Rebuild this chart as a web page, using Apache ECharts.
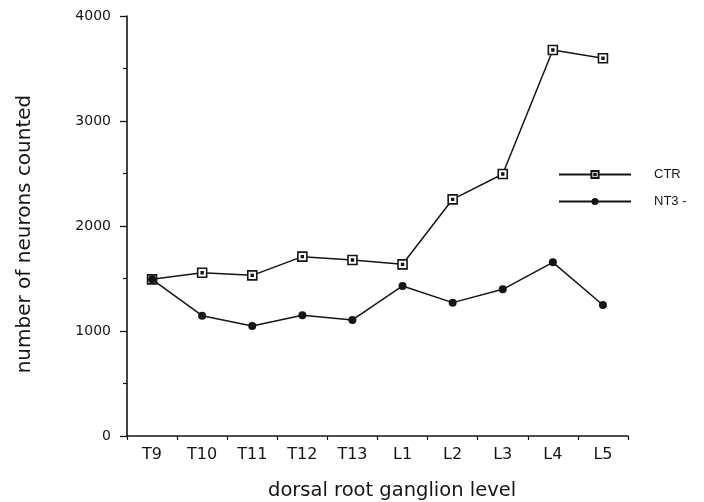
<!DOCTYPE html>
<html>
<head>
<meta charset="utf-8">
<script src="https://cdn.jsdelivr.net/npm/echarts@6/dist/echarts.min.js"></script>
<style>
html,body{margin:0;padding:0;background:#fff;}
#chart{width:704px;height:502px;}
</style>
</head>
<body>
<div id="chart"></div>
<script>
const categories = ['T9','T10','T11','T12','T13','L1','L2','L3','L4','L5'];
const ctrValues = [1492, 1555, 1530, 1708, 1676, 1635, 2254, 2495, 3676, 3597];
const nt3Values = [1492, 1146, 1048, 1150, 1105, 1429, 1270, 1397, 1654, 1248];
const yTicks = [0, 1000, 2000, 3000, 4000];

const ink = '#151515';
const fontFam = 'DejaVu Sans, Liberation Sans, sans-serif';

const chart = echarts.init(document.getElementById('chart'));
chart.setOption({
  animation: false,
  backgroundColor: '#ffffff',
  grid: { left: 127, right: 76, top: 16, bottom: 66 },
  legend: {
    orient: 'vertical',
    left: 553,
    top: 163,
    itemWidth: 72,
    itemHeight: 9,
    itemGap: 14,
    data: ['CTR', 'NT3 -'],
    textStyle: { color: ink, fontSize: 13, fontFamily: 'Liberation Sans, Arial, sans-serif', padding: [0, 0, 0, 18] }
  },
  xAxis: [{
    type: 'category',
    data: categories,
    boundaryGap: true,
    axisLine: { lineStyle: { color: ink, width: 1.6 } },
    axisTick: { alignWithLabel: true, length: 7, lineStyle: { color: ink, width: 1.3 } },
    axisLabel: { color: ink, fontSize: 16, fontFamily: fontFam, margin: 11 },
    splitLine: { show: false }
  }, {
    type: 'category',
    data: categories,
    position: 'bottom',
    offset: 0,
    boundaryGap: true,
    axisLine: { show: false },
    axisTick: { show: true, length: 4, lineStyle: { color: ink, width: 1.2 } },
    axisLabel: { show: false },
    splitLine: { show: false }
  }],
  yAxis: {
    type: 'value',
    min: yTicks[0],
    max: yTicks[yTicks.length - 1],
    interval: 1000,
    axisLine: { show: true, lineStyle: { color: ink, width: 1.6 } },
    axisTick: { show: true, length: 7, lineStyle: { color: ink, width: 1.3 } },
    minorTick: { show: true, splitNumber: 2, length: 4, lineStyle: { color: ink, width: 1.2 } },
    axisLabel: { color: ink, fontSize: 14, fontFamily: fontFam, margin: 16, formatter: function (v) { return String(v); } },
    splitLine: { show: false },
    minorSplitLine: { show: false }
  },
  graphic: [{
    type: 'text',
    left: 268,
    top: 481,
    style: { text: 'dorsal root ganglion level', fontSize: 19.5, fontFamily: fontFam, fill: ink }
  }, {
    type: 'text',
    x: 25,
    y: 234,
    rotation: Math.PI / 2,
    style: { text: 'number of neurons counted', fontSize: 20, fontFamily: fontFam, fill: ink, align: 'center', verticalAlign: 'middle' }
  }],
  series: [{
    name: 'CTR',
    type: 'line',
    data: ctrValues,
    symbol: 'path://M0,0H10V10H0Z M4,4H6V6H4Z',
    symbolSize: 9,
    lineStyle: { color: ink, width: 1.5 },
    itemStyle: { color: '#ffffff', borderColor: ink, borderWidth: 1.6 },
    z: 2
  }, {
    name: 'NT3 -',
    type: 'line',
    data: nt3Values,
    symbol: 'circle',
    symbolSize: 8,
    lineStyle: { color: ink, width: 1.5 },
    itemStyle: { color: ink, borderColor: ink, borderWidth: 0 },
    z: 3
  }]
});
</script>
</body>
</html>
